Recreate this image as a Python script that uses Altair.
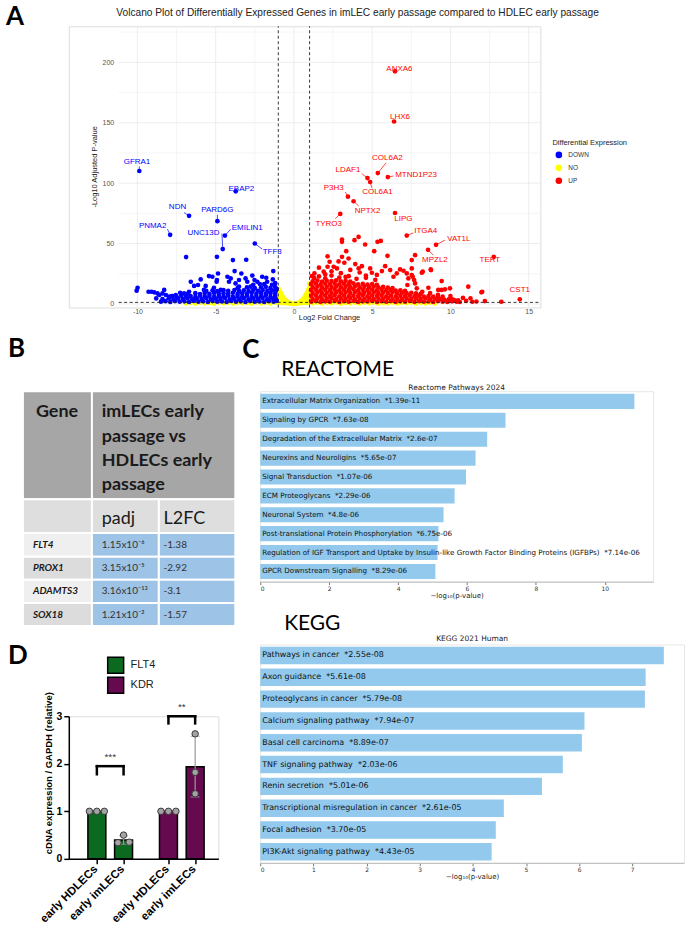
import altair as alt
import numpy as np
import pandas as pd

SANS = "Liberation Sans"
OFFICE = "Lato"
MPL = "DejaVu Sans"

# ---------------------------------------------------------------- panel A data
# (log2 fold change, -log10 padj)
down_pts = [
    (-9.99, 13.4), (-10.05, 11.0), (-9.29, 10.1), (-9.1, 10.1), (-8.93, 9.6), (-8.72, 8.7),
    (-8.6, 7.4), (-8.4, 8.7), (-8.29, 11.6), (-8.18, 7.4), (-7.97, 6.0), (-7.76, 6.6),
    (-7.55, 7.4), (-7.27, 9.3), (-7.02, 8.7), (-6.70, 10.1), (-6.59, 18.4), (-6.38, 14.9),
    (-6.13, 15.7), (-5.96, 20.3), (-5.75, 11.6), (-5.64, 14.9), (-5.43, 23.1), (-5.21, 22.5),
    (-5.11, 13.4), (-4.94, 18.4), (-4.85, 25.2), (-4.68, 11.6), (-4.92, 19.8), (-4.25, 22.5),
    (-4.15, 18.4), (-4.04, 21.1), (-3.79, 27.2), (-3.73, 17.0), (-3.51, 19.8), (-3.51, 14.3),
    (-3.36, 25.2), (-3.09, 21.1), (-2.98, 18.4), (-2.77, 14.3), (-2.66, 23.5), (-2.52, 19.8),
    (-2.34, 18.4), (-2.18, 16.5), (-2.03, 22.5), (-1.77, 21.7), (-1.71, 18.4), (-1.32, 27.2),
    (-1.35, 20.3), (-6.89, 38.8), (-4.92, 39.0), (-3.9, 36.3), (-3.05, 36.6),
    (-8.5, 1.9), (-8.2, 2.3), (-7.9, 1.7), (-7.6, 2.4), (-7.3, 1.8), (-7.0, 2.2), (-6.7, 1.6),
    (-6.4, 2.5), (-6.1, 1.8), (-5.8, 2.2), (-5.5, 1.6), (-5.2, 2.4), (-4.9, 1.9), (-4.6, 2.1),
    (-4.3, 1.7), (-4.0, 2.5), (-3.7, 1.8), (-3.4, 2.2), (-3.1, 1.6), (-2.8, 2.4), (-2.5, 1.9),
    (-2.2, 2.1), (-1.9, 1.7), (-1.6, 2.3), (-1.3, 1.8), (-1.1, 2.6),
    (-8.8, 4.6), (-8.4, 4.0), (-8.0, 4.8), (-7.7, 3.9), (-7.4, 4.5), (-7.1, 4.1), (-6.8, 4.7),
    (-6.5, 3.8), (-6.2, 4.4), (-5.9, 4.0), (-5.6, 4.8), (-5.3, 3.9), (-5.0, 4.5), (-4.7, 4.2),
    (-4.4, 4.9), (-4.1, 3.8), (-3.8, 4.4), (-3.5, 4.1), (-3.2, 4.8), (-2.9, 3.9), (-2.6, 4.5),
    (-2.3, 4.2), (-2.0, 4.9), (-1.7, 3.8), (-1.4, 4.5), (-1.15, 4.1),
    (-7.8, 6.5), (-7.5, 5.9), (-7.2, 6.8), (-6.9, 6.1), (-6.6, 6.6), (-6.3, 5.8), (-6.0, 6.9),
    (-5.7, 6.2), (-5.4, 6.7), (-5.1, 5.9), (-4.8, 6.6), (-4.5, 6.2), (-4.2, 6.9), (-3.9, 5.9),
    (-3.6, 6.5), (-3.3, 6.1), (-3.0, 6.8), (-2.7, 5.9), (-2.4, 6.5), (-2.1, 6.2), (-1.8, 6.9),
    (-1.5, 6.0), (-1.2, 6.6),
    (-6.8, 8.4), (-6.3, 8.9), (-6.0, 8.2), (-5.7, 9.0), (-5.4, 8.4), (-5.1, 9.1), (-4.8, 8.3),
    (-4.5, 8.9), (-4.2, 8.5), (-3.9, 9.2), (-3.6, 8.3), (-3.3, 8.8), (-3.0, 8.4), (-2.7, 9.1),
    (-2.4, 8.6), (-2.1, 9.0), (-1.8, 8.3), (-1.5, 8.9), (-1.2, 8.5),
    (-5.6, 10.8), (-5.2, 11.3), (-4.9, 10.6), (-4.5, 11.4), (-4.2, 10.9), (-3.8, 11.5),
    (-3.5, 10.7), (-3.2, 11.2), (-2.9, 10.8), (-2.6, 11.6), (-2.3, 10.9), (-2.0, 11.4),
    (-1.7, 10.8), (-1.4, 11.3), (-1.15, 10.9),
    (-3.6, 13.2), (-3.0, 13.8), (-2.5, 13.1), (-2.1, 13.6), (-1.8, 14.2), (-1.5, 13.3),
    (-1.2, 14.0), (-1.1, 12.6), (-2.6, 15.8), (-1.9, 16.4), (-1.4, 15.9), (-1.2, 17.2),
]

ns_pts = [
    (-0.98, 12.5), (-0.97, 10.8), (-0.99, 9.0), (-0.96, 7.5), (-0.98, 5.8), (-0.97, 4.0),
    (-0.99, 2.5), (-0.95, 1.0), (-0.92, 11.2), (-0.9, 9.5), (-0.91, 7.8), (-0.9, 6.0),
    (-0.92, 4.2), (-0.9, 2.6), (-0.88, 1.2), (-0.84, 9.2), (-0.83, 7.4), (-0.85, 5.6),
    (-0.83, 3.8), (-0.84, 2.1), (-0.82, 0.8), (-0.76, 7.3), (-0.75, 5.6), (-0.77, 3.9),
    (-0.74, 2.2), (-0.76, 0.9), (-0.68, 5.4), (-0.67, 3.8), (-0.69, 2.2), (-0.66, 0.9),
    (-0.6, 4.0), (-0.58, 2.6), (-0.59, 1.2), (-0.5, 2.8), (-0.49, 1.5), (-0.51, 0.5),
    (-0.42, 1.9), (-0.4, 0.8), (-0.33, 1.2), (-0.3, 0.4), (-0.24, 0.7), (-0.18, 0.3),
    (-0.12, 0.2), (-0.05, 0.1), (0.05, 0.1), (0.12, 0.2), (0.18, 0.4), (0.24, 0.8), (0.3, 0.5),
    (0.33, 1.4), (0.4, 0.9), (0.42, 2.1), (0.49, 1.6), (0.5, 3.0), (0.51, 0.6), (0.58, 2.8),
    (0.59, 1.3), (0.6, 4.3), (0.66, 1.0), (0.67, 4.1), (0.68, 5.8), (0.69, 2.4), (0.74, 2.4),
    (0.75, 6.0), (0.76, 7.8), (0.77, 4.2), (0.76, 1.0), (0.82, 0.9), (0.83, 4.0), (0.84, 2.2),
    (0.85, 6.0), (0.83, 8.0), (0.84, 9.9), (0.88, 1.3), (0.9, 2.7), (0.92, 4.4), (0.9, 6.3),
    (0.91, 8.2), (0.9, 10.2), (0.92, 12.0), (0.95, 1.1), (0.99, 2.6), (0.97, 4.2), (0.98, 6.0),
    (0.96, 7.8), (0.99, 9.6), (0.97, 11.4), (0.98, 13.2), (0.99, 15.0), (0.97, 16.8),
    (-6.9, 0.4), (-6.6, 0.9), (-6.3, 0.3), (-6.0, 1.0), (-5.7, 0.5), (-5.4, 0.8), (-5.1, 0.2),
    (-4.8, 1.1), (-4.5, 0.5), (-4.2, 0.9), (-3.9, 0.3), (-3.6, 1.0), (-3.3, 0.6), (-3.0, 0.8),
    (-2.7, 0.2), (-2.4, 1.1), (-2.1, 0.5), (-1.8, 0.9), (-1.5, 0.3), (-1.2, 1.0),
    (1.2, 0.5), (1.5, 1.0), (1.8, 0.3), (2.1, 0.9), (2.4, 0.6), (2.7, 1.1), (3.0, 0.2),
    (3.3, 0.8), (3.6, 0.5), (3.9, 1.0), (4.2, 0.3), (4.5, 0.9), (4.8, 0.6), (5.1, 1.1),
    (5.4, 0.2), (5.7, 0.8), (6.0, 0.5), (6.3, 1.0), (6.6, 0.3), (6.9, 0.9), (7.2, 0.6),
    (7.5, 1.1), (7.8, 0.2), (8.1, 0.8), (8.4, 0.5), (8.7, 1.0), (9.0, 0.3),
]

up_pts = [
    (3.07, 53.3), (3.07, 51.4), (3.87, 52.8), (4.13, 55.5), (4.55, 49.2), (5.34, 51.4),
    (5.55, 52.2), (3.34, 43.7), (5.13, 43.7), (5.98, 39.8), (2.15, 39.4), (2.28, 34.9),
    (2.85, 35.2), (3.07, 39.0), (3.22, 34.1), (3.49, 37.6), (2.15, 30.8), (1.9, 26.7),
    (1.31, 25.3), (2.54, 30.8), (2.75, 29.4), (3.92, 33.0), (4.13, 29.4), (4.34, 31.3),
    (4.87, 29.4), (4.98, 25.8), (5.62, 27.2), (5.83, 31.3), (6.15, 28.0), (6.36, 22.5),
    (6.57, 25.3), (6.78, 28.6), (7.0, 27.5), (7.21, 25.3), (7.31, 21.1), (7.53, 23.9),
    (7.25, 15.7), (7.68, 19.8), (7.85, 12.9), (7.74, 40.4), (7.53, 36.3), (7.53, 29.4),
    (8.23, 26.7), (8.74, 28.6), (7.59, 22.5), (7.74, 17.0), (9.44, 18.9), (8.59, 13.4),
    (9.22, 11.6), (9.44, 11.6), (9.65, 12.1), (9.97, 12.9), (11.14, 14.3), (11.98, 9.6),
    (11.28, 4.7), (11.66, 2.0), (13.25, 1.8), (10.07, 4.1), (9.86, 3.0), (10.28, 2.8),
    (10.49, 3.0), (9.54, 3.0), (10.6, 1.6), (12.03, 10.1), (8.17, 25.8), (8.76, 28.0),
    (1.6, 30.0), (2.4, 27.0), (3.0, 25.5), (3.6, 28.2), (4.2, 26.0), (4.6, 23.5), (5.3, 24.0),
    (3.5, 23.0), (2.0, 24.5), (7.8, 8.5), (8.2, 10.0), (8.7, 9.0), (9.2, 7.5), (9.5, 6.0),
    (10.0, 6.5), (10.8, 5.0), (11.0, 2.5), (11.4, 1.8), (12.2, 2.4),
    (1.1, 1.8), (1.4, 2.4), (1.7, 1.6), (2.0, 2.2), (2.3, 1.9), (2.6, 2.5), (2.9, 1.7),
    (3.2, 2.3), (3.5, 1.9), (3.8, 2.6), (4.1, 1.6), (4.4, 2.2), (4.7, 2.0), (5.0, 2.5),
    (5.3, 1.7), (5.6, 2.3), (5.9, 1.8), (6.2, 2.4), (6.5, 1.6), (6.8, 2.2), (7.1, 1.9),
    (7.4, 2.5), (7.7, 1.7), (8.0, 2.3), (8.3, 1.8), (8.6, 2.1), (8.9, 1.6), (9.2, 2.4),
    (9.5, 1.9), (9.8, 1.7), (10.1, 2.2), (10.4, 1.8),
    (1.2, 4.1), (1.5, 4.6), (1.8, 3.9), (2.1, 4.4), (2.4, 4.8), (2.7, 4.0), (3.0, 4.5),
    (3.3, 4.2), (3.6, 4.9), (3.9, 3.8), (4.2, 4.4), (4.5, 4.1), (4.8, 4.7), (5.1, 4.0),
    (5.4, 4.5), (5.7, 4.3), (6.0, 4.8), (6.3, 3.9), (6.6, 4.4), (6.9, 4.2), (7.2, 4.6),
    (7.5, 4.0), (7.8, 4.5), (8.1, 4.1), (8.4, 4.7), (8.7, 3.9), (9.0, 4.3), (9.3, 4.0),
    (9.6, 3.6), (9.9, 3.9), (10.2, 3.4),
    (1.1, 6.5), (1.4, 7.0), (1.7, 6.3), (2.0, 6.8), (2.3, 6.6), (2.6, 7.2), (2.9, 6.4),
    (3.2, 6.9), (3.5, 6.2), (3.8, 6.8), (4.1, 6.5), (4.4, 7.1), (4.7, 6.3), (5.0, 6.9),
    (5.3, 6.6), (5.6, 7.0), (5.9, 6.4), (6.2, 6.8), (6.5, 6.2), (6.8, 6.7), (7.1, 6.5),
    (7.4, 7.0), (7.7, 6.3), (8.0, 6.6), (8.3, 6.1), (8.6, 6.5), (8.9, 6.0), (9.2, 5.8),
    (1.2, 9.0), (1.5, 9.5), (1.8, 8.8), (2.1, 9.3), (2.4, 9.1), (2.7, 9.6), (3.0, 8.9),
    (3.3, 9.4), (3.6, 9.0), (3.9, 9.7), (4.2, 8.8), (4.5, 9.3), (4.8, 9.1), (5.1, 9.5),
    (5.4, 8.9), (5.7, 9.4), (6.0, 9.0), (6.3, 9.6), (6.6, 8.8), (6.9, 9.2), (7.2, 8.9),
    (7.5, 9.3), (7.8, 8.6), (8.1, 8.4),
    (1.1, 11.4), (1.4, 11.9), (1.7, 11.2), (2.0, 11.7), (2.3, 11.5), (2.6, 12.0), (2.9, 11.3),
    (3.2, 11.8), (3.5, 11.4), (3.8, 12.1), (4.1, 11.2), (4.4, 11.7), (4.7, 11.5), (5.0, 11.9),
    (5.3, 11.3), (5.6, 11.8), (5.9, 11.4), (6.2, 11.6), (6.5, 11.0), (6.8, 11.3), (7.1, 10.8),
    (1.2, 13.9), (1.5, 14.4), (1.8, 13.7), (2.1, 14.2), (2.4, 14.0), (2.7, 14.5), (3.0, 13.8),
    (3.3, 14.3), (3.6, 13.9), (3.9, 14.6), (4.2, 13.7), (4.5, 14.2), (4.8, 14.0), (5.1, 14.4),
    (5.4, 13.8), (5.7, 14.1), (6.0, 13.5), (6.3, 13.2),
    (1.1, 16.4), (1.4, 16.9), (1.7, 16.2), (2.0, 16.7), (2.3, 16.5), (2.6, 17.0), (2.9, 16.3),
    (3.2, 16.8), (3.5, 16.4), (3.8, 17.1), (4.1, 16.2), (4.4, 16.6), (4.7, 16.0), (5.0, 16.5),
    (5.3, 15.9),
    (1.2, 18.8), (1.5, 19.4), (1.8, 18.6), (2.1, 19.2), (2.4, 19.0), (2.7, 19.6), (3.0, 18.7),
    (3.3, 19.1), (3.6, 18.5),
    (1.3, 21.5), (1.6, 22.8), (2.0, 21.2), (2.4, 23.5), (2.9, 21.8), (1.15, 23.0), (3.3, 22.4),
    (4.0, 20.8), (4.6, 21.6), (5.2, 19.9),
]

# labelled genes: point, label centre
label_gene = ["GFRA1", "EBAP2", "NDN", "PARD6G", "PNMA2", "EMILIN1", "UNC13D", "TFF3",
              "ANXA6", "LHX6", "COL6A2", "LDAF1", "MTND1P23", "COL6A1", "P3H3", "NPTX2",
              "TYRO3", "LIPG", "ITGA4", "VAT1L", "MPZL2", "TERT", "CST1"]
label_de = ["DOWN"] * 8 + ["UP"] * 15
label_fc = [-9.88, -3.72, -6.70, -4.89, -7.91, -4.41, -4.55, -2.50,
            6.46, 6.40, 5.36, 4.70, 6.00, 4.87, 3.45, 3.81, 2.96, 6.46, 7.21, 9.08, 8.57, 12.77, 14.43]
label_lp = [110.0, 93.2, 72.9, 68.5, 57.2, 56.6, 45.4, 50.0,
            192.5, 151.0, 108.3, 104.2, 105.0, 100.9, 88.8, 85.0, 74.5, 75.3, 56.6, 48.9, 44.8, 39.0, 3.8]
text_fc = [-10.03, -3.36, -7.44, -4.89, -9.03, -2.98, -5.78, -1.39,
           6.74, 6.78, 5.97, 3.45, 7.80, 5.34, 2.54, 4.70, 2.22, 6.99, 8.42, 10.54, 9.01, 12.52, 14.43]
text_lp = [117.4, 95.4, 80.3, 77.6, 64.4, 63.2, 59.1, 43.2,
           194.4, 154.3, 121.0, 110.8, 106.9, 92.7, 96.2, 77.0, 66.5, 70.1, 60.7, 54.1, 36.3, 36.3, 11.6]

# connector segments (start near the label, end at the point)
seg_gene = ["GFRA1", "NDN", "PARD6G", "PNMA2", "EMILIN1", "UNC13D", "TFF3", "COL6A2", "LDAF1",
            "MTND1P23", "COL6A1", "P3H3", "NPTX2", "TYRO3", "ITGA4", "VAT1L", "MPZL2"]
seg_fc = [-9.88, -7.02, -4.89, -8.08, -4.04, -4.60, -2.03, 5.89, 4.34, 6.36, 4.98, 3.28, 4.13,
          2.64, 7.63, 9.65, 8.90]
seg_lp = [113.9, 75.6, 73.9, 61.9, 61.9, 58.3, 45.4, 116.8, 107.8, 105.9, 96.0, 92.7, 81.1,
          70.6, 58.8, 52.8, 40.4]

FC_CUTOFF = [-1.0, 1.0]
PADJ_CUTOFF = 0.05
FC_TICKS = [-10, -5, 0, 5, 10, 15]
FC_MINOR = [-7.5, -2.5, 2.5, 7.5, 12.5]
LP_TICKS = [0, 50, 100, 150, 200]
LP_MINOR = [25, 75, 125, 175, 225]

# ---------------------------------------------------------------- panel B data
tbl_genes = ["FLT4", "PROX1", "ADAMTS3", "SOX18"]
tbl_padj = ["1.15x10\u207b\u2076", "3.15x10\u207b\u2075", "3.16x10\u207b\u00b9\u00b3", "1.21x10\u207b\u00b2"]
tbl_l2fc = ["-1.38", "-2.92", "-3.1", "-1.57"]
tbl_header = ["imLECs early", "passage vs", "HDLECs early", "passage"]

# ---------------------------------------------------------------- panel C data
re_terms = ["Extracellular Matrix Organization", "Signaling by GPCR",
            "Degradation of the Extracellular Matrix", "Neurexins and Neuroligins",
            "Signal Transduction", "ECM Proteoglycans", "Neuronal System",
            "Post-translational Protein Phosphorylation",
            "Regulation of IGF Transport and Uptake by Insulin-like Growth Factor Binding Proteins (IGFBPs)",
            "GPCR Downstream Signalling"]
re_p = ["1.39e-11", "7.63e-08", "2.6e-07", "5.65e-07", "1.07e-06", "2.29e-06", "4.8e-06",
        "6.75e-06", "7.14e-06", "8.29e-06"]
kegg_terms = ["Pathways in cancer", "Axon guidance", "Proteoglycans in cancer",
              "Calcium signaling pathway", "Basal cell carcinoma", "TNF signaling pathway",
              "Renin secretion", "Transcriptional misregulation in cancer", "Focal adhesion",
              "PI3K-Akt signaling pathway"]
kegg_p = ["2.55e-08", "5.61e-08", "5.79e-08", "7.94e-07", "8.89e-07", "2.03e-06", "5.01e-06",
          "2.61e-05", "3.70e-05", "4.43e-05"]

# ---------------------------------------------------------------- panel D data
d_gene = ["FLT4"] * 6 + ["KDR"] * 6
d_cell = (["early HDLECs"] * 3 + ["early imLECs"] * 3) * 2
d_value = [1.0, 1.0, 1.0, 0.50, 0.34, 0.35, 1.0, 1.0, 1.0, 2.63, 1.82, 1.37]
d_spread = [-0.28, 0.0, 0.28, 0.0, -0.21, 0.21, -0.28, 0.0, 0.28, 0.0, 0.0, 0.0]
sig_gene = ["FLT4", "KDR"]
sig_stars = ["***", "**"]
sig_top = [1.95, 3.0]
sig_leg = [1.78, 2.85]
gene_names = ["FLT4", "KDR"]
gene_fill = ["#0b6a1f", "#660a50"]

# All panels in a column share the same left plot origin, so the volcano and the
# table get a wider frame whose extra room sits left of their visible content.
X_LO, X_HI = -11.2, 15.75
Y_LO, Y_HI = -2.9, 229.8
VOL_SHIFT = 50          # px between the shared origin and the volcano panel


def pixel_text(txt, x, y, **kw):
    return alt.Chart(pd.DataFrame({"t": [txt]})).mark_text(**kw).encode(
        x=alt.value(x), y=alt.value(y), text="t:N")


# ================================================================ panel A
pts = pd.DataFrame(
    [(x, y, "NO") for x, y in ns_pts]
    + [(x, y, "DOWN") for x, y in down_pts]
    + [(x, y, "UP") for x, y in up_pts]
    + list(zip(label_fc, label_lp, label_de)),
    columns=["fc", "lp", "de"],
)
labels = pd.DataFrame({"gene": label_gene, "de": label_de, "fc": label_fc, "lp": label_lp,
                       "tfc": text_fc, "tlp": text_lp})
segs = pd.DataFrame({"gene": seg_gene, "sfc": seg_fc, "slp": seg_lp}).merge(labels, on="gene")

px_per_fc = 423 / (X_HI - X_LO)
de_scale = alt.Scale(domain=["DOWN", "NO", "UP"], range=["#0000ff", "#ffff00", "#ff0000"])
vx = alt.Scale(domain=[X_LO - VOL_SHIFT / px_per_fc, X_HI], nice=False, zero=False)
vy = alt.Scale(domain=[Y_LO, Y_HI], nice=False, zero=False)

vgrid = pd.DataFrame({"g": FC_TICKS + FC_MINOR,
                      "c": ["#e8e8e8"] * len(FC_TICKS) + ["#f3f3f3"] * len(FC_MINOR),
                      "lo": Y_LO, "hi": Y_HI})
hgrid = pd.DataFrame({"g": LP_TICKS + LP_MINOR,
                      "c": ["#e8e8e8"] * len(LP_TICKS) + ["#f3f3f3"] * len(LP_MINOR),
                      "lo": X_LO, "hi": X_HI})
grid_v = alt.Chart(vgrid).mark_rule(strokeWidth=0.8).encode(
    x=alt.X("g:Q", scale=vx), y=alt.Y("lo:Q", scale=vy), y2="hi:Q",
    stroke=alt.Stroke("c:N", scale=None))
grid_h = alt.Chart(hgrid).mark_rule(strokeWidth=0.8).encode(
    y=alt.Y("g:Q", scale=vy), x=alt.X("lo:Q", scale=vx), x2="hi:Q",
    stroke=alt.Stroke("c:N", scale=None))

x_axis = alt.Axis(values=FC_TICKS, labelExpr="'' + datum.value", grid=False, ticks=False,
                  domain=False, labelOverlap=False, labelFontSize=7, labelColor="#555",
                  labelFont=SANS, labelPadding=0, title=None)
y_axis = alt.Axis(values=LP_TICKS, labelExpr="'' + datum.value", grid=False, ticks=False,
                  domain=False, labelOverlap=False, labelFontSize=7, labelColor="#555",
                  labelFont=SANS, labelPadding=5, title=None, offset=-VOL_SHIFT)

volcano_pts = alt.Chart(pts).mark_circle(size=22, opacity=1).encode(
    x=alt.X("fc:Q", scale=vx, axis=x_axis),
    y=alt.Y("lp:Q", scale=vy, axis=y_axis),
    color=alt.Color("de:N", scale=de_scale, legend=alt.Legend(
        orient="none", legendX=485, legendY=113, title="Differential Expression",
        titleFont=SANS, titleFontSize=7.5, titleFontWeight="normal", titleColor="#222",
        titlePadding=5, labelFont=SANS, labelFontSize=6.5, labelColor="#333",
        symbolType="circle", symbolSize=26, symbolOffset=3, labelOffset=6, rowPadding=0)),
)
vlines = alt.Chart(pd.DataFrame({"fc": FC_CUTOFF, "lo": Y_LO, "hi": Y_HI})).mark_rule(
    color="#222", strokeWidth=0.9, strokeDash=[3, 2.5]).encode(
    x=alt.X("fc:Q", scale=vx), y=alt.Y("lo:Q", scale=vy), y2="hi:Q")
hline = alt.Chart(pd.DataFrame({"lp": [-np.log10(PADJ_CUTOFF)], "lo": X_LO, "hi": X_HI})
                  ).mark_rule(color="#222", strokeWidth=0.9, strokeDash=[3, 2.5]).encode(
    y=alt.Y("lp:Q", scale=vy), x=alt.X("lo:Q", scale=vx), x2="hi:Q")
seg_layer = alt.Chart(segs).mark_rule(strokeWidth=0.7).encode(
    x=alt.X("sfc:Q", scale=vx), y=alt.Y("slp:Q", scale=vy), x2="fc:Q", y2="lp:Q",
    color=alt.Color("de:N", scale=de_scale, legend=None))
lab_layer = alt.Chart(labels).mark_text(font=SANS, fontSize=8, baseline="middle").encode(
    x=alt.X("tfc:Q", scale=vx), y=alt.Y("tlp:Q", scale=vy), text="gene:N",
    color=alt.Color("de:N", scale=de_scale, legend=None))

vol_title = pixel_text(
    "Volcano Plot of Differentially Expressed Genes in imLEC early passage compared to HDLEC early passage",
    289.6, -13.8, font=SANS, fontSize=10.2, color="#222", baseline="middle")
vol_xtitle = pixel_text("Log2 Fold Change", 261.5, 293, font=SANS, fontSize=7.5,
                        color="#222", baseline="middle")
vol_ytitle = pixel_text("-Log10 Adjusted P-value", 26, 141, font=SANS, fontSize=7.5,
                        color="#222", baseline="middle", angle=270)
letter_a = pixel_text("A", -63, -0.8, font=OFFICE, fontSize=26, fontWeight="bold",
                      align="left", baseline="alphabetic", color="black")

volcano = alt.layer(grid_v, grid_h, volcano_pts, vlines, hline, seg_layer, lab_layer,
                    vol_title, vol_xtitle, vol_ytitle, letter_a
                    ).properties(width=423 + VOL_SHIFT, height=282)

# ================================================================ panel B (table)
TABLE_SHIFT = 46        # px between the table's left edge and the shared origin
col_edges = [0, 69.2, 136.3, 213]
row_edges = [0, 108.3, 142.2, 166, 189.2, 212.5, 235.5]
HEAD_GREY, SUB_GREY, LIGHT, DARK, BLUE = "#a6a6a6", "#dedede", "#efefef", "#dcdcdc", "#9dc3e6"

cells = [(col_edges[0], col_edges[1], row_edges[0], row_edges[1], HEAD_GREY),
         (col_edges[1], col_edges[3], row_edges[0], row_edges[1], HEAD_GREY)]
for c in range(3):
    cells.append((col_edges[c], col_edges[c + 1], row_edges[1], row_edges[2], SUB_GREY))
for r in range(len(tbl_genes)):
    shade = LIGHT if r % 2 == 0 else DARK
    cells.append((col_edges[0], col_edges[1], row_edges[r + 2], row_edges[r + 3], shade))
    for c in (1, 2):
        cells.append((col_edges[c], col_edges[c + 1], row_edges[r + 2], row_edges[r + 3], BLUE))
cell_df = pd.DataFrame(cells, columns=["x1", "x2", "y1", "y2", "fill"])

TBL_W = 150
tx = alt.Scale(domain=[TABLE_SHIFT, TABLE_SHIFT + TBL_W], nice=False, zero=False)
ty = alt.Scale(domain=[0, row_edges[-1]], nice=False, zero=False, reverse=True)

cell_layer = alt.Chart(cell_df).mark_rect(stroke="white", strokeWidth=2).encode(
    x=alt.X("x1:Q", scale=tx, axis=None), x2="x2:Q",
    y=alt.Y("y1:Q", scale=ty, axis=None), y2="y2:Q",
    fill=alt.Fill("fill:N", scale=None))

head_df = pd.DataFrame({"t": ["Gene"] + tbl_header,
                        "x": [13] + [79] * 4,
                        "y": [26.3, 26.3, 50.6, 74.9, 99.2]})
head_layer = alt.Chart(head_df).mark_text(
    font=OFFICE, fontSize=18, fontWeight="bold", align="left", baseline="alphabetic",
    color="#1a1a1a").encode(x=alt.X("x:Q", scale=tx), y=alt.Y("y:Q", scale=ty), text="t:N")
sub_df = pd.DataFrame({"t": ["padj", "L2FC"], "x": [79, 141], "y": [133.3, 133.3]})
sub_layer = alt.Chart(sub_df).mark_text(
    font=OFFICE, fontSize=18, align="left", baseline="alphabetic", color="#1a1a1a").encode(
    x=alt.X("x:Q", scale=tx), y=alt.Y("y:Q", scale=ty), text="t:N")
row_mid = [(row_edges[i + 2] + row_edges[i + 3]) / 2 for i in range(len(tbl_genes))]
gene_df = pd.DataFrame({"t": tbl_genes, "x": 10, "y": row_mid})
gene_layer = alt.Chart(gene_df).mark_text(
    font=OFFICE, fontSize=10, fontWeight="bold", fontStyle="italic", align="left",
    baseline="middle", color="#1a1a1a").encode(
    x=alt.X("x:Q", scale=tx), y=alt.Y("y:Q", scale=ty), text="t:N")
val_df = pd.DataFrame({"t": tbl_padj + tbl_l2fc, "x": [79] * 4 + [141] * 4, "y": row_mid * 2})
val_layer = alt.Chart(val_df).mark_text(
    font=OFFICE, fontSize=10, align="left", baseline="middle", color="#333").encode(
    x=alt.X("x:Q", scale=tx), y=alt.Y("y:Q", scale=ty), text="t:N")
letter_b = pixel_text("B", -61, -34, font=OFFICE, fontSize=26, fontWeight="bold",
                      align="left", baseline="alphabetic", color="black")

table_b = alt.layer(cell_layer, head_layer, sub_layer, gene_layer, val_layer, letter_b
                    ).properties(width=TBL_W, height=row_edges[-1])

# ================================================================ panel C (enrichment bars)
BAR_BLUE = "#92c9ec"
GAP = "\u00a0\u00a0*"


def enrichment(terms, pvals, title, big, width, height, pad_outer, font_size, ticks,
               title_y, big_xy, letter=None):
    df = pd.DataFrame({"term": terms, "p": [float(p) for p in pvals]})
    df["score"] = -np.log10(df["p"])
    df["label"] = [f"{t}{GAP}{p}" for t, p in zip(terms, pvals)]
    xs = alt.Scale(domain=[0, float(df["score"].max()) * 1.05], nice=False, zero=True)
    ys = alt.Scale(domain=terms, paddingInner=0.2, paddingOuter=pad_outer)
    xaxis = alt.Axis(values=ticks, format="d", grid=False, tickSize=3, tickColor="#777",
                     domainColor="#bbbbbb", labelFont=MPL, labelFontSize=6, labelColor="#333",
                     labelPadding=1, title="\u2212log\u2081\u2080(p-value)", titleFont=MPL,
                     titleFontSize=7, titleFontWeight="normal", titleColor="#222",
                     titlePadding=0)
    bars = alt.Chart(df).mark_bar(color=BAR_BLUE).encode(
        x=alt.X("score:Q", scale=xs, axis=xaxis),
        y=alt.Y("term:N", scale=ys, axis=None, sort=terms))
    text = alt.Chart(df).mark_text(font=MPL, fontSize=font_size, align="left",
                                   baseline="middle", dx=2, color="#111").encode(
        x=alt.value(0), y=alt.Y("term:N", scale=ys, sort=terms), text="label:N")
    ttl = pixel_text(title, width / 2, title_y, font=MPL, fontSize=7.5, baseline="middle",
                     color="#222")
    head = pixel_text(big, big_xy[0], big_xy[1], font=OFFICE, fontSize=21, align="left",
                      baseline="alphabetic", color="black")
    layers = [bars, text, ttl, head]
    if letter:
        layers.append(pixel_text(letter, -18, -33.3, font=OFFICE, fontSize=26,
                                 fontWeight="bold", align="left", baseline="alphabetic",
                                 color="black"))
    return alt.layer(*layers).properties(
        width=width, height=height, view=alt.ViewBackground(stroke="#e6e6e6", strokeWidth=1))


reactome = enrichment(re_terms, re_p, "Reactome Pathways 2024", "REACTOME", 394, 191, 0.14,
                      7.2, [0, 2, 4, 6, 8, 10], -3.5, (21, -15.7), letter="C")
kegg = enrichment(kegg_terms, kegg_p, "KEGG 2021 Human", "KEGG", 425, 219, 0.105, 8,
                  [0, 1, 2, 3, 4, 5, 6, 7], -5.4, (24, -14.4))

# ================================================================ panel D (qPCR bars)
GROUP_GAP = 2.68
gene_idx = {"FLT4": 0, "KDR": 1}
cell_idx = {"early HDLECs": 0, "early imLECs": 1}
qpcr = pd.DataFrame({"gene": d_gene, "cell": d_cell, "value": d_value, "spread": d_spread})
qpcr["pos"] = [gene_idx[g] * GROUP_GAP + cell_idx[c] for g, c in zip(d_gene, d_cell)]
bar_pos = sorted(set(qpcr["pos"]))

dx_scale = alt.Scale(domain=[-0.864, 4.362], nice=False, zero=False)
dy_scale = alt.Scale(domain=[0, 3], nice=False)
gene_colors = alt.Scale(domain=gene_names, range=gene_fill)

d_xaxis = alt.Axis(values=bar_pos, labels=False, ticks=True, tickSize=5, tickWidth=1.5,
                   tickColor="black", domainColor="black", domainWidth=1.5, grid=False, title=None)
d_yaxis = alt.Axis(values=[0, 1, 2, 3], tickSize=5, tickWidth=1.5, tickColor="black",
                   domainColor="black", domainWidth=1.5, grid=False, title=None,
                   labelFont=SANS, labelFontSize=10.5, labelFontWeight="bold", labelColor="black",
                   labelPadding=2)

summary = alt.Chart(qpcr).transform_aggregate(
    mean="mean(value)", sd="stdev(value)", groupby=["gene", "cell", "pos"]
).transform_calculate(lo="datum.mean - datum.sd", hi="datum.mean + datum.sd")

d_bars = summary.mark_bar(size=18, stroke="black", strokeWidth=1.5).encode(
    x=alt.X("pos:Q", scale=dx_scale, axis=d_xaxis),
    y=alt.Y("mean:Q", scale=dy_scale, axis=d_yaxis),
    color=alt.Color("gene:N", scale=gene_colors, legend=None))
err = summary.transform_filter("datum.sd > 0")
d_err = err.mark_rule(color="#9a9a9a", strokeWidth=1.2).encode(
    x=alt.X("pos:Q", scale=dx_scale), y=alt.Y("lo:Q", scale=dy_scale), y2="hi:Q")
d_cap_lo = err.mark_tick(orient="horizontal", size=9, thickness=1.2, color="#9a9a9a").encode(
    x=alt.X("pos:Q", scale=dx_scale), y=alt.Y("lo:Q", scale=dy_scale))
d_cap_hi = err.mark_tick(orient="horizontal", size=9, thickness=1.2, color="#9a9a9a").encode(
    x=alt.X("pos:Q", scale=dx_scale), y=alt.Y("hi:Q", scale=dy_scale))
d_pts = alt.Chart(qpcr).transform_calculate(xp="datum.pos + datum.spread").mark_circle(
    size=42, color="#a3a3a3", stroke="#3a3a3a", strokeWidth=1, opacity=1).encode(
    x=alt.X("xp:Q", scale=dx_scale), y=alt.Y("value:Q", scale=dy_scale))

sig = pd.DataFrame({"gene": sig_gene, "stars": sig_stars, "top": sig_top, "leg": sig_leg})
sig["x0"] = [gene_idx[g] * GROUP_GAP for g in sig_gene]
sig["x1"] = sig["x0"] + 1
sig["xm"] = sig["x0"] + 0.5
sig["ty"] = sig["top"] + 0.2
br = alt.Chart(sig)
br_top = br.mark_rule(color="black", strokeWidth=2.5, strokeCap="square").encode(
    x=alt.X("x0:Q", scale=dx_scale), x2="x1:Q", y=alt.Y("top:Q", scale=dy_scale))
br_l = br.mark_rule(color="black", strokeWidth=2.5, strokeCap="square").encode(
    x=alt.X("x0:Q", scale=dx_scale), y=alt.Y("leg:Q", scale=dy_scale), y2="top:Q")
br_r = br.mark_rule(color="black", strokeWidth=2.5, strokeCap="square").encode(
    x=alt.X("x1:Q", scale=dx_scale), y=alt.Y("leg:Q", scale=dy_scale), y2="top:Q")
br_txt = br.mark_text(font=SANS, fontSize=10, color="#333", baseline="middle").encode(
    x=alt.X("xm:Q", scale=dx_scale), y=alt.Y("ty:Q", scale=dy_scale), text="stars:N")

xlab_df = qpcr.drop_duplicates("pos")[["pos", "cell"]]
d_xlab = alt.Chart(xlab_df).mark_text(
    font=SANS, fontSize=11.5, fontWeight="bold", angle=315, align="right", baseline="middle",
    color="black", dx=-1).encode(x=alt.X("pos:Q", scale=dx_scale), y=alt.value(151),
                                 text="cell:N")
d_ytitle = pixel_text("cDNA expression / GAPDH (relative)", -20, 57, font=SANS, fontSize=9.5,
                      fontWeight="bold", angle=270, baseline="middle", color="black")
letter_d = pixel_text("D", -61, -52.7, font=OFFICE, fontSize=26, fontWeight="bold",
                      align="left", baseline="alphabetic", color="black")

# key: filled squares with gene names
key_layers = []
for i, (name, fill) in enumerate(zip(gene_names, gene_fill)):
    key_y = -51.2 + 20 * i
    key_layers.append(alt.Chart(pd.DataFrame({"g": [name]})).mark_square(
        size=256, fill=fill, stroke="black", strokeWidth=1.5, opacity=1).encode(
        x=alt.value(47), y=alt.value(key_y)))
    key_layers.append(pixel_text(name, 62, key_y, font=SANS, fontSize=11, align="left",
                                 baseline="middle", color="#222"))

panel_d = alt.layer(d_bars, d_err, d_cap_lo, d_cap_hi, d_pts, br_top, br_l, br_r, br_txt,
                    d_xlab, d_ytitle, letter_d, *key_layers).properties(width=150, height=143)

# ================================================================ layout
left_col = alt.vconcat(table_b, panel_d, spacing=14).resolve_scale(color="independent")
right_col = alt.vconcat(reactome, kegg, spacing=13)
bottom = alt.hconcat(left_col, right_col, spacing=4).resolve_scale(color="independent")
chart = alt.vconcat(volcano, bottom, spacing=13).resolve_scale(
    color="independent").resolve_legend(color="independent").properties(
    padding={"left": 5, "top": 2, "right": 0, "bottom": 0}).configure_view(
    stroke="transparent").configure(font=SANS, background="white")

chart.save("out.html", embed_options={"renderer": "svg", "actions": False})
